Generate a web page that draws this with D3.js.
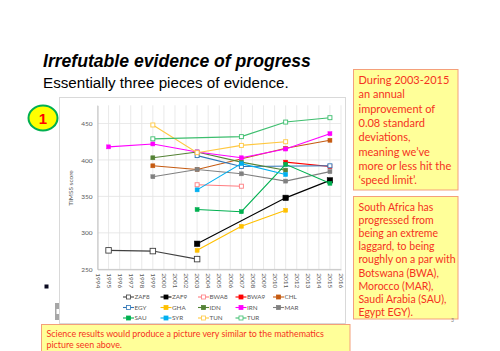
<!DOCTYPE html>
<html>
<head>
<meta charset="utf-8">
<script src="https://cdn.jsdelivr.net/npm/d3@7"></script>
<style>
  body { margin: 0; background: #fff; }
  svg { display: block; }
</style>
</head>
<body>
<div id="chart"></div>
<script>
// TIMSS maths scores
const yearTicks = [1994, 1995, 1996, 1997, 1998, 1999, 2000, 2001, 2002, 2003, 2004, 2005,
    2006, 2007, 2008, 2009, 2010, 2011, 2012, 2013, 2014, 2015, 2016];
const scoreTicks = [250, 300, 350, 400, 450];

const ZAF8 = [[1995, 276], [1999, 275], [2003, 264]];
const ZAF9 = [[2003, 285], [2011, 348], [2015, 372]];
const BWA8 = [[2003, 366], [2007, 364]];
const BWA9 = [[2011, 397], [2015, 391]];
const CHL = [[1999, 392], [2003, 387], [2011, 416], [2015, 427]];
const EGY = [[2003, 406], [2007, 391], [2015, 392]];
const GHA = [[2003, 276], [2007, 309], [2011, 331]];
const IDN = [[1999, 403], [2003, 411], [2007, 397], [2011, 386]];
const IRN = [[1995, 418], [1999, 422], [2003, 411], [2007, 403], [2011, 415], [2015, 436]];
const MAR = [[1999, 377], [2003, 387], [2007, 381], [2011, 371], [2015, 384]];
const SAU = [[2003, 332], [2007, 329], [2011, 394], [2015, 368]];
const SYR = [[2003, 359], [2007, 395], [2011, 380]];
const TUN = [[1999, 448], [2003, 410], [2007, 420], [2011, 425]];
const TUR = [[1999, 429], [2007, 432], [2011, 452], [2015, 458]];

const seriesNames = ["ZAF8", "ZAF9", "BWA8", "BWA9", "CHL", "EGY", "GHA", "IDN", "IRN", "MAR", "SAU", "SYR", "TUN", "TUR"];
const seriesValues = [ZAF8, ZAF9, BWA8, BWA9, CHL, EGY, GHA, IDN, IRN, MAR, SAU, SYR, TUN, TUR];

// styling, kept apart from the values
const style = {
    ZAF8: { color: "#404040", hollow: true, size: 5.5 },
    ZAF9: { color: "#000000", hollow: false, size: 5.5 },
    BWA8: { color: "#FF7C80", hollow: true, size: 4 },
    BWA9: { color: "#FF0000", hollow: false, size: 4 },
    CHL: { color: "#C55A11", hollow: false, size: 4 },
    EGY: { color: "#2E75B6", hollow: true, size: 4 },
    GHA: { color: "#FFC000", hollow: false, size: 4 },
    IDN: { color: "#548235", hollow: false, size: 4 },
    IRN: { color: "#FF00FF", hollow: false, size: 4 },
    MAR: { color: "#808080", hollow: false, size: 4 },
    SAU: { color: "#00B050", hollow: false, size: 4 },
    SYR: { color: "#00B0F0", hollow: false, size: 4 },
    TUN: { color: "#FFC840", hollow: true, size: 4 },
    TUR: { color: "#3DBE6E", hollow: true, size: 4 }
};

const svg = d3.select("#chart").append("svg")
    .attr("width", 500)
    .attr("height", 351);

// slide heading
svg.append("text")
    .attr("x", 43).attr("y", 67)
    .style("font-family", "'Liberation Sans', Arial, sans-serif")
    .style("font-size", "17.6px")
    .style("font-weight", "bold")
    .style("font-style", "italic")
    .text("Irrefutable evidence of progress");

svg.append("text")
    .attr("x", 43).attr("y", 88)
    .style("font-family", "'Liberation Sans', Arial, sans-serif")
    .style("font-size", "15.2px")
    .text("Essentially three pieces of evidence.");

// chart frame
svg.append("rect")
    .attr("x", 59.5).attr("y", 97.5)
    .attr("width", 286).attr("height", 226)
    .attr("fill", "#fff")
    .attr("stroke", "#d9d9d9");

// badge "1"
svg.append("ellipse")
    .attr("cx", 43).attr("cy", 118)
    .attr("rx", 14.5).attr("ry", 12.5)
    .attr("fill", "#FFFF00")
    .attr("stroke", "#00B050")
    .attr("stroke-width", 2);
svg.append("text")
    .attr("x", 43).attr("y", 123.5)
    .attr("text-anchor", "middle")
    .style("font-family", "'Liberation Sans', Arial, sans-serif")
    .style("font-size", "15px")
    .style("font-weight", "bold")
    .attr("fill", "#FF0000")
    .text("1");

// stray slide bits
svg.append("rect").attr("x", 44.5).attr("y", 284.5).attr("width", 4).attr("height", 4).attr("fill", "#0a0a20");
svg.append("rect").attr("x", 55).attr("y", 303).attr("width", 4).attr("height", 17).attr("fill", "#a6a6a6");
svg.append("rect").attr("x", 56.5).attr("y", 309).attr("width", 2.5).attr("height", 5).attr("fill", "#fff");

const x = d3.scaleLinear().domain([1994, 2016]).range([97.5, 341]);
const y = d3.scaleLinear().domain([250, 475]).range([269.3, 105.3]);

const plot = svg.append("g");

// grid
plot.append("g").selectAll("line")
    .data(yearTicks)
    .join("line")
    .attr("x1", d => x(d)).attr("x2", d => x(d))
    .attr("y1", y(475)).attr("y2", y(250))
    .attr("stroke", "#e3e3e3")
    .attr("stroke-width", 0.8);
plot.append("g").selectAll("line")
    .data(scoreTicks)
    .join("line")
    .attr("x1", x(1994)).attr("x2", x(2016))
    .attr("y1", d => y(d)).attr("y2", d => y(d))
    .attr("stroke", "#e3e3e3")
    .attr("stroke-width", 0.8);

const yAxis = plot.append("g")
    .attr("transform", "translate(" + x(1994) + ",0)")
    .call(d3.axisLeft(y).tickValues(scoreTicks).tickSize(0).tickPadding(5));
yAxis.select(".domain").attr("stroke", "#bfbfbf");
yAxis.selectAll("text")
    .style("font-family", "Lato, sans-serif")
    .style("font-size", "6.5px")
    .attr("fill", "#595959");

const xAxis = plot.append("g")
    .attr("transform", "translate(0," + y(250) + ")")
    .call(d3.axisBottom(x).tickValues(yearTicks).tickFormat(d3.format("d")).tickSize(0));
xAxis.select(".domain").attr("stroke", "#bfbfbf");
xAxis.selectAll("text")
    .attr("transform", "rotate(90)")
    .attr("x", 4).attr("y", 0).attr("dy", "0.35em")
    .attr("text-anchor", "start")
    .style("font-family", "Lato, sans-serif")
    .style("font-size", "6.5px")
    .attr("fill", "#595959");

svg.append("text")
    .attr("transform", "translate(73,188) rotate(-90)")
    .attr("text-anchor", "middle")
    .style("font-family", "Lato, sans-serif")
    .style("font-size", "6.5px")
    .attr("fill", "#595959")
    .text("TIMSS score");

const line = d3.line().x(d => x(d[0])).y(d => y(d[1]));

seriesNames.forEach((name, i) => {
    const s = style[name];
    const g = plot.append("g");
    g.append("path")
        .datum(seriesValues[i])
        .attr("d", line)
        .attr("fill", "none")
        .attr("stroke", s.color)
        .attr("stroke-width", 1.1);
    g.selectAll("rect")
        .data(seriesValues[i])
        .join("rect")
        .attr("x", d => x(d[0]) - s.size / 2)
        .attr("y", d => y(d[1]) - s.size / 2)
        .attr("width", s.size).attr("height", s.size)
        .attr("fill", s.hollow ? "#fff" : s.color)
        .attr("stroke", s.color)
        .attr("stroke-width", s.hollow ? 0.9 : 0.5);
});

// legend, 5 per row
const legend = svg.append("g").selectAll("g")
    .data(seriesNames)
    .join("g")
    .attr("transform", (d, i) => "translate(" + (123 + (i % 5) * 37.5) + "," + (297 + Math.floor(i / 5) * 10.5) + ")");
legend.append("line")
    .attr("x1", 0).attr("x2", 11)
    .attr("stroke", d => style[d].color)
    .attr("stroke-width", 1.1);
legend.append("rect")
    .attr("x", 3.5).attr("y", -2).attr("width", 4).attr("height", 4)
    .attr("fill", d => style[d].hollow ? "#fff" : style[d].color)
    .attr("stroke", d => style[d].color)
    .attr("stroke-width", 0.8);
legend.append("text")
    .attr("x", 11.5).attr("dy", "0.35em")
    .style("font-family", "Lato, sans-serif")
    .style("font-size", "6.3px")
    .attr("fill", "#595959")
    .text(d => d);

// callout boxes
function callout(bx, by, bw, bh, lines, tx, ty, lh, fs) {
    svg.append("rect")
        .attr("x", bx).attr("y", by).attr("width", bw).attr("height", bh)
        .attr("fill", "#FFFF99")
        .attr("stroke", "#F4A07A")
        .attr("stroke-width", 1);
    const t = svg.append("text")
        .style("font-family", "Lato, sans-serif")
        .style("font-size", fs + "px")
        .attr("fill", "#F5321E");
    lines.forEach((l, i) => {
        t.append("tspan").attr("x", tx).attr("y", ty + i * lh).text(l);
    });
}

callout(353.5, 69.5, 104.5, 120.5,
    ["During 2003-2015", "an annual", "improvement of", "0.08 standard", "deviations,",
     "meaning we\u2019ve", "more or less hit the", "\u2018speed limit\u2019."],
    358.5, 84, 14.3, 11);

callout(353.5, 196.5, 104.5, 122.5,
    ["South Africa has", "progressed from", "being an extreme", "laggard, to being",
     "roughly on a par with", "Botswana (BWA),", "Morocco (MAR),", "Saudi Arabia (SAU),", "Egypt EGY)."],
    358.5, 210.5, 13.2, 10.5);

callout(41.5, 324.5, 308.5, 40,
    ["Science results would produce a picture very similar to the mathematics", "picture seen above."],
    46.5, 336.5, 11, 8.9);

svg.append("text")
    .attr("x", 451).attr("y", 322)
    .style("font-family", "Lato, sans-serif")
    .style("font-size", "5px")
    .attr("fill", "#7f7f7f")
    .text("3");
</script>
</body>
</html>
